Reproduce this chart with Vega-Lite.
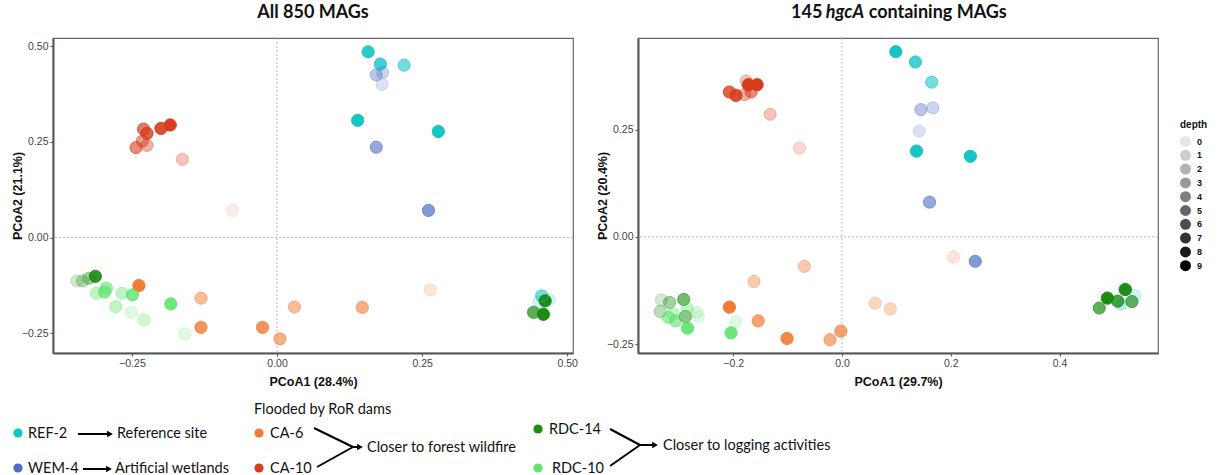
{
  "$schema": "https://vega.github.io/schema/vega-lite/v6.json",
  "background": "white",
  "padding": {"left": 10, "top": 3, "right": 5, "bottom": 0},
  "spacing": 8,
  "datasets": {
    "pts": [
      {"panel":"A","site":"REF-2","x":0.157,"y":0.485,"depth":8},
      {"panel":"A","site":"REF-2","x":0.178,"y":0.453,"depth":7},
      {"panel":"A","site":"REF-2","x":0.219,"y":0.450,"depth":5},
      {"panel":"A","site":"REF-2","x":0.139,"y":0.306,"depth":9},
      {"panel":"A","site":"REF-2","x":0.278,"y":0.277,"depth":9},
      {"panel":"A","site":"REF-2","x":0.456,"y":-0.152,"depth":5},
      {"panel":"A","site":"REF-2","x":0.451,"y":-0.169,"depth":1},
      {"panel":"A","site":"REF-2","x":0.469,"y":-0.162,"depth":1},
      {"panel":"A","site":"WEM-4","x":0.171,"y":0.425,"depth":3},
      {"panel":"A","site":"WEM-4","x":0.182,"y":0.431,"depth":2},
      {"panel":"A","site":"WEM-4","x":0.181,"y":0.400,"depth":1},
      {"panel":"A","site":"WEM-4","x":0.171,"y":0.236,"depth":5},
      {"panel":"A","site":"WEM-4","x":0.261,"y":0.071,"depth":6},
      {"panel":"A","site":"CA-10","x":-0.230,"y":0.283,"depth":6},
      {"panel":"A","site":"CA-10","x":-0.224,"y":0.272,"depth":7},
      {"panel":"A","site":"CA-10","x":-0.200,"y":0.285,"depth":8},
      {"panel":"A","site":"CA-10","x":-0.184,"y":0.294,"depth":9},
      {"panel":"A","site":"CA-10","x":-0.243,"y":0.235,"depth":5},
      {"panel":"A","site":"CA-10","x":-0.232,"y":0.252,"depth":4},
      {"panel":"A","site":"CA-10","x":-0.224,"y":0.241,"depth":3},
      {"panel":"A","site":"CA-10","x":-0.163,"y":0.204,"depth":2},
      {"panel":"A","site":"CA-10","x":-0.077,"y":0.071,"depth":0},
      {"panel":"A","site":"CA-6","x":-0.238,"y":-0.125,"depth":9},
      {"panel":"A","site":"CA-6","x":-0.131,"y":-0.158,"depth":4},
      {"panel":"A","site":"CA-6","x":-0.131,"y":-0.234,"depth":7},
      {"panel":"A","site":"CA-6","x":-0.025,"y":-0.234,"depth":7},
      {"panel":"A","site":"CA-6","x":0.005,"y":-0.264,"depth":5},
      {"panel":"A","site":"CA-6","x":0.030,"y":-0.181,"depth":4},
      {"panel":"A","site":"CA-6","x":0.147,"y":-0.182,"depth":5},
      {"panel":"A","site":"CA-6","x":0.264,"y":-0.137,"depth":1},
      {"panel":"A","site":"RDC-14","x":-0.313,"y":-0.101,"depth":8},
      {"panel":"A","site":"RDC-14","x":-0.345,"y":-0.113,"depth":1},
      {"panel":"A","site":"RDC-14","x":-0.335,"y":-0.113,"depth":2},
      {"panel":"A","site":"RDC-14","x":-0.324,"y":-0.106,"depth":3},
      {"panel":"A","site":"RDC-14","x":0.442,"y":-0.195,"depth":6},
      {"panel":"A","site":"RDC-14","x":0.462,"y":-0.165,"depth":9},
      {"panel":"A","site":"RDC-14","x":0.459,"y":-0.200,"depth":9},
      {"panel":"A","site":"RDC-10","x":-0.311,"y":-0.145,"depth":3},
      {"panel":"A","site":"RDC-10","x":-0.294,"y":-0.132,"depth":5},
      {"panel":"A","site":"RDC-10","x":-0.297,"y":-0.142,"depth":6},
      {"panel":"A","site":"RDC-10","x":-0.267,"y":-0.145,"depth":3},
      {"panel":"A","site":"RDC-10","x":-0.249,"y":-0.149,"depth":7},
      {"panel":"A","site":"RDC-10","x":-0.278,"y":-0.180,"depth":3},
      {"panel":"A","site":"RDC-10","x":-0.251,"y":-0.195,"depth":1},
      {"panel":"A","site":"RDC-10","x":-0.229,"y":-0.215,"depth":2},
      {"panel":"A","site":"RDC-10","x":-0.183,"y":-0.173,"depth":8},
      {"panel":"A","site":"RDC-10","x":-0.159,"y":-0.251,"depth":1},
      {"panel":"H","site":"REF-2","x":0.099,"y":0.432,"depth":9},
      {"panel":"H","site":"REF-2","x":0.135,"y":0.408,"depth":7},
      {"panel":"H","site":"REF-2","x":0.165,"y":0.361,"depth":5},
      {"panel":"H","site":"REF-2","x":0.137,"y":0.200,"depth":9},
      {"panel":"H","site":"REF-2","x":0.236,"y":0.188,"depth":9},
      {"panel":"H","site":"REF-2","x":0.518,"y":-0.121,"depth":1},
      {"panel":"H","site":"REF-2","x":0.539,"y":-0.137,"depth":1},
      {"panel":"H","site":"REF-2","x":0.513,"y":-0.157,"depth":2},
      {"panel":"H","site":"WEM-4","x":0.145,"y":0.297,"depth":3},
      {"panel":"H","site":"WEM-4","x":0.167,"y":0.301,"depth":2},
      {"panel":"H","site":"WEM-4","x":0.142,"y":0.247,"depth":1},
      {"panel":"H","site":"WEM-4","x":0.161,"y":0.081,"depth":5},
      {"panel":"H","site":"WEM-4","x":0.245,"y":-0.057,"depth":6},
      {"panel":"H","site":"CA-10","x":-0.207,"y":0.338,"depth":7},
      {"panel":"H","site":"CA-10","x":-0.195,"y":0.330,"depth":8},
      {"panel":"H","site":"CA-10","x":-0.176,"y":0.364,"depth":2},
      {"panel":"H","site":"CA-10","x":-0.172,"y":0.355,"depth":9},
      {"panel":"H","site":"CA-10","x":-0.156,"y":0.355,"depth":9},
      {"panel":"H","site":"CA-10","x":-0.179,"y":0.332,"depth":3},
      {"panel":"H","site":"CA-10","x":-0.167,"y":0.338,"depth":5},
      {"panel":"H","site":"CA-10","x":-0.132,"y":0.286,"depth":2},
      {"panel":"H","site":"CA-10","x":-0.078,"y":0.207,"depth":1},
      {"panel":"H","site":"CA-6","x":-0.069,"y":-0.069,"depth":3},
      {"panel":"H","site":"CA-6","x":-0.162,"y":-0.104,"depth":3},
      {"panel":"H","site":"CA-6","x":-0.207,"y":-0.164,"depth":9},
      {"panel":"H","site":"CA-6","x":-0.154,"y":-0.196,"depth":6},
      {"panel":"H","site":"CA-6","x":-0.101,"y":-0.237,"depth":8},
      {"panel":"H","site":"CA-6","x":-0.022,"y":-0.240,"depth":5},
      {"panel":"H","site":"CA-6","x":-0.002,"y":-0.220,"depth":6},
      {"panel":"H","site":"CA-6","x":0.061,"y":-0.155,"depth":2},
      {"panel":"H","site":"CA-6","x":0.089,"y":-0.168,"depth":2},
      {"panel":"H","site":"CA-6","x":0.205,"y":-0.047,"depth":1},
      {"panel":"H","site":"RDC-14","x":-0.332,"y":-0.147,"depth":1},
      {"panel":"H","site":"RDC-14","x":-0.317,"y":-0.153,"depth":3},
      {"panel":"H","site":"RDC-14","x":-0.334,"y":-0.174,"depth":2},
      {"panel":"H","site":"RDC-14","x":-0.291,"y":-0.146,"depth":5},
      {"panel":"H","site":"RDC-14","x":-0.288,"y":-0.186,"depth":4},
      {"panel":"H","site":"RDC-14","x":0.473,"y":-0.166,"depth":6},
      {"panel":"H","site":"RDC-14","x":0.488,"y":-0.143,"depth":9},
      {"panel":"H","site":"RDC-14","x":0.507,"y":-0.150,"depth":7},
      {"panel":"H","site":"RDC-14","x":0.521,"y":-0.123,"depth":9},
      {"panel":"H","site":"RDC-14","x":0.533,"y":-0.151,"depth":6},
      {"panel":"H","site":"RDC-10","x":-0.319,"y":-0.188,"depth":5},
      {"panel":"H","site":"RDC-10","x":-0.306,"y":-0.196,"depth":5},
      {"panel":"H","site":"RDC-10","x":-0.284,"y":-0.213,"depth":8},
      {"panel":"H","site":"RDC-10","x":-0.284,"y":-0.168,"depth":3},
      {"panel":"H","site":"RDC-10","x":-0.267,"y":-0.176,"depth":1},
      {"panel":"H","site":"RDC-10","x":-0.264,"y":-0.186,"depth":1},
      {"panel":"H","site":"RDC-10","x":-0.195,"y":-0.198,"depth":1},
      {"panel":"H","site":"RDC-10","x":-0.204,"y":-0.224,"depth":8},
      {"panel":"H","site":"RDC-10","x":-0.310,"y":-0.180,"depth":3}
    ],
    "zero": [{"x": 0, "y": 0}],
    "titleA": [{"x": 0.062, "y": 0.586, "t": "All 850 MAGs"}],
    "titleH1": [{"x": -0.036, "y": 0.523, "t": "145"}],
    "titleH2": [{"x": -0.030, "y": 0.523, "t": "hgcA"}],
    "titleH3": [{"x": 0.049, "y": 0.523, "t": "containing MAGs"}],
    "legDots": [
      {"site":"REF-2","x":18,"y":431},
      {"site":"WEM-4","x":18,"y":466},
      {"site":"CA-6","x":259,"y":431},
      {"site":"CA-10","x":259,"y":466},
      {"site":"RDC-14","x":538,"y":427},
      {"site":"RDC-10","x":538,"y":466}
    ],
    "legText": [
      {"t":"REF-2","x":28,"y":432},
      {"t":"Reference site","x":117,"y":432},
      {"t":"WEM-4","x":28,"y":467},
      {"t":"Artificial wetlands","x":115,"y":467},
      {"t":"Flooded by RoR dams","x":254,"y":408},
      {"t":"CA-6","x":270,"y":432},
      {"t":"CA-10","x":270,"y":467},
      {"t":"Closer to forest wildfire","x":367,"y":446},
      {"t":"RDC-14","x":549,"y":428},
      {"t":"RDC-10","x":552,"y":467},
      {"t":"Closer to logging activities","x":663,"y":444}
    ],
    "legLines": [
      {"x":78,"y":432,"x2":108,"y2":432},
      {"x":83,"y":467,"x2":107,"y2":467},
      {"x":314,"y":426,"x2":353,"y2":445},
      {"x":317,"y":465,"x2":353,"y2":445},
      {"x":353,"y":445,"x2":358,"y2":445},
      {"x":610,"y":427,"x2":640,"y2":443},
      {"x":610,"y":464,"x2":640,"y2":443},
      {"x":640,"y":443,"x2":652,"y2":443}
    ],
    "legHeads": [
      {"x":110,"y":432},
      {"x":109,"y":467},
      {"x":360,"y":445},
      {"x":655,"y":443}
    ]
  },
  "vconcat": [
    {
      "bounds": "flush",
      "spacing": 65,
      "hconcat": [
        {
          "width": 520,
          "height": 315,
          "layer": [
            {
              "data": {"name": "zero"},
              "mark": {"type": "rule", "color": "#bbbbbb", "strokeDash": [2, 2], "strokeWidth": 1},
              "encoding": {
                "x": {"field": "x", "type": "quantitative", "title": "PCoA1 (28.4%)", "scale": {"domain": [-0.386, 0.51], "nice": false, "zero": false}}
              }
            },
            {
              "data": {"name": "zero"},
              "mark": {"type": "rule", "color": "#bbbbbb", "strokeDash": [2, 2], "strokeWidth": 1},
              "encoding": {
                "y": {"field": "y", "type": "quantitative", "title": "PCoA2 (21.1%)", "scale": {"domain": [-0.301, 0.521], "nice": false, "zero": false}}
              }
            },
            {
              "data": {"name": "pts"},
              "transform": [{"filter": "datum.panel == 'A'"}],
              "mark": {"type": "point", "filled": true, "size": 150, "strokeWidth": 0},
              "encoding": {
                "x": {"field": "x", "type": "quantitative", "title": "PCoA1 (28.4%)", "scale": {"domain": [-0.386, 0.51], "nice": false, "zero": false}, "axis": {"values": [-0.25, 0, 0.25, 0.5], "format": ".2f"}},
                "y": {"field": "y", "type": "quantitative", "title": "PCoA2 (21.1%)", "scale": {"domain": [-0.301, 0.521], "nice": false, "zero": false}, "axis": {"values": [-0.25, 0, 0.25, 0.5], "format": ".2f"}},
                "color": {"field": "site", "type": "nominal", "legend": null, "scale": {"domain": ["REF-2", "WEM-4", "CA-6", "CA-10", "RDC-14", "RDC-10"], "range": ["#15c4c4", "#4f6fc6", "#f27b35", "#d63d1e", "#1c8c12", "#5ee36c"]}},
                "opacity": {"field": "depth", "type": "quantitative", "title": "depth", "scale": {"domain": [0, 9], "range": [0.1, 1]}, "legend": {"values": [0,1,2,3,4,5,6,7,8,9], "orient": "none", "legendX": 1127, "legendY": 82, "symbolFillColor": "#000000", "symbolType": "circle"}}
              }
            },
            {
              "data": {"name": "pts"},
              "transform": [{"filter": "datum.panel == 'A'"}],
              "mark": {"type": "point", "filled": false, "size": 150, "strokeWidth": 1},
              "encoding": {
                "x": {"field": "x", "type": "quantitative", "title": "PCoA1 (28.4%)", "scale": {"domain": [-0.386, 0.51], "nice": false, "zero": false}},
                "y": {"field": "y", "type": "quantitative", "title": "PCoA2 (21.1%)", "scale": {"domain": [-0.301, 0.521], "nice": false, "zero": false}},
                "color": {"field": "site", "type": "nominal", "legend": null},
                "opacity": {"field": "depth", "type": "quantitative", "title": "depth", "legend": null}
              }
            },
            {
              "data": {"name": "titleA"},
              "mark": {"type": "text", "font": "Lato", "fontSize": 18, "fontWeight": "bold", "color": "#111", "align": "center", "baseline": "middle"},
              "encoding": {
                "x": {"field": "x", "type": "quantitative", "title": "PCoA1 (28.4%)", "scale": {"domain": [-0.386, 0.51], "nice": false, "zero": false}},
                "y": {"field": "y", "type": "quantitative", "title": "PCoA2 (21.1%)", "scale": {"domain": [-0.301, 0.521], "nice": false, "zero": false}},
                "text": {"field": "t"}
              }
            }
          ]
        },
        {
          "width": 520,
          "height": 315,
          "layer": [
            {
              "data": {"name": "zero"},
              "mark": {"type": "rule", "color": "#bbbbbb", "strokeDash": [2, 2], "strokeWidth": 1},
              "encoding": {
                "x": {"field": "x", "type": "quantitative", "title": "PCoA1 (29.7%)", "scale": {"domain": [-0.375, 0.581], "nice": false, "zero": false}}
              }
            },
            {
              "data": {"name": "zero"},
              "mark": {"type": "rule", "color": "#bbbbbb", "strokeDash": [2, 2], "strokeWidth": 1},
              "encoding": {
                "y": {"field": "y", "type": "quantitative", "title": "PCoA2 (20.4%)", "scale": {"domain": [-0.271, 0.464], "nice": false, "zero": false}}
              }
            },
            {
              "data": {"name": "pts"},
              "transform": [{"filter": "datum.panel == 'H'"}],
              "mark": {"type": "point", "filled": true, "size": 150, "strokeWidth": 0},
              "encoding": {
                "x": {"field": "x", "type": "quantitative", "title": "PCoA1 (29.7%)", "scale": {"domain": [-0.375, 0.581], "nice": false, "zero": false}, "axis": {"values": [-0.2, 0, 0.2, 0.4], "format": ".1f"}},
                "y": {"field": "y", "type": "quantitative", "title": "PCoA2 (20.4%)", "scale": {"domain": [-0.271, 0.464], "nice": false, "zero": false}, "axis": {"values": [-0.25, 0, 0.25], "format": ".2f"}},
                "color": {"field": "site", "type": "nominal", "legend": null},
                "opacity": {"field": "depth", "type": "quantitative", "title": "depth", "legend": null}
              }
            },
            {
              "data": {"name": "pts"},
              "transform": [{"filter": "datum.panel == 'H'"}],
              "mark": {"type": "point", "filled": false, "size": 150, "strokeWidth": 1},
              "encoding": {
                "x": {"field": "x", "type": "quantitative", "title": "PCoA1 (29.7%)", "scale": {"domain": [-0.375, 0.581], "nice": false, "zero": false}},
                "y": {"field": "y", "type": "quantitative", "title": "PCoA2 (20.4%)", "scale": {"domain": [-0.271, 0.464], "nice": false, "zero": false}},
                "color": {"field": "site", "type": "nominal", "legend": null},
                "opacity": {"field": "depth", "type": "quantitative", "title": "depth", "legend": null}
              }
            },
            {
              "data": {"name": "titleH1"},
              "mark": {"type": "text", "font": "Lato", "fontSize": 18, "fontWeight": "bold", "color": "#111", "align": "right", "baseline": "middle"},
              "encoding": {
                "x": {"field": "x", "type": "quantitative", "title": "PCoA1 (29.7%)", "scale": {"domain": [-0.375, 0.581], "nice": false, "zero": false}},
                "y": {"field": "y", "type": "quantitative", "title": "PCoA2 (20.4%)", "scale": {"domain": [-0.271, 0.464], "nice": false, "zero": false}},
                "text": {"field": "t"}
              }
            },
            {
              "data": {"name": "titleH2"},
              "mark": {"type": "text", "font": "Lato", "fontSize": 18, "fontWeight": "bold", "fontStyle": "italic", "color": "#111", "align": "left", "baseline": "middle"},
              "encoding": {
                "x": {"field": "x", "type": "quantitative", "title": "PCoA1 (29.7%)", "scale": {"domain": [-0.375, 0.581], "nice": false, "zero": false}},
                "y": {"field": "y", "type": "quantitative", "title": "PCoA2 (20.4%)", "scale": {"domain": [-0.271, 0.464], "nice": false, "zero": false}},
                "text": {"field": "t"}
              }
            },
            {
              "data": {"name": "titleH3"},
              "mark": {"type": "text", "font": "Lato", "fontSize": 18, "fontWeight": "bold", "color": "#111", "align": "left", "baseline": "middle"},
              "encoding": {
                "x": {"field": "x", "type": "quantitative", "title": "PCoA1 (29.7%)", "scale": {"domain": [-0.375, 0.581], "nice": false, "zero": false}},
                "y": {"field": "y", "type": "quantitative", "title": "PCoA2 (20.4%)", "scale": {"domain": [-0.271, 0.464], "nice": false, "zero": false}},
                "text": {"field": "t"}
              }
            }
          ]
        }
      ]
    },
    {
      "width": 1105,
      "height": 80,
      "view": {"stroke": null},
      "layer": [
        {
          "data": {"name": "legLines"},
          "mark": {"type": "rule", "color": "#000", "strokeWidth": 2},
          "encoding": {
            "x": {"field": "x", "type": "quantitative", "scale": {"domain": [53, 1158], "nice": false, "zero": false}, "axis": null},
            "y": {"field": "y", "type": "quantitative", "scale": {"domain": [395, 475], "nice": false, "zero": false, "reverse": true}, "axis": null},
            "x2": {"field": "x2"},
            "y2": {"field": "y2"}
          }
        },
        {
          "data": {"name": "legHeads"},
          "mark": {"type": "point", "shape": "triangle-right", "filled": true, "color": "#000", "size": 45, "opacity": 1},
          "encoding": {
            "x": {"field": "x", "type": "quantitative", "scale": {"domain": [53, 1158], "nice": false, "zero": false}, "axis": null},
            "y": {"field": "y", "type": "quantitative", "scale": {"domain": [395, 475], "nice": false, "zero": false, "reverse": true}, "axis": null}
          }
        },
        {
          "data": {"name": "legDots"},
          "mark": {"type": "circle", "size": 85, "opacity": 1},
          "encoding": {
            "x": {"field": "x", "type": "quantitative", "scale": {"domain": [53, 1158], "nice": false, "zero": false}, "axis": null},
            "y": {"field": "y", "type": "quantitative", "scale": {"domain": [395, 475], "nice": false, "zero": false, "reverse": true}, "axis": null},
            "color": {"field": "site", "type": "nominal", "legend": null}
          }
        },
        {
          "data": {"name": "legText"},
          "mark": {"type": "text", "font": "Lato", "fontSize": 14.5, "color": "#111", "align": "left", "baseline": "middle"},
          "encoding": {
            "x": {"field": "x", "type": "quantitative", "scale": {"domain": [53, 1158], "nice": false, "zero": false}, "axis": null},
            "y": {"field": "y", "type": "quantitative", "scale": {"domain": [395, 475], "nice": false, "zero": false, "reverse": true}, "axis": null},
            "text": {"field": "t"}
          }
        }
      ]
    }
  ],
  "resolve": {"scale": {"color": "shared", "opacity": "shared"}},
  "config": {
    "font": "Liberation Sans",
    "view": {"stroke": "#666666", "strokeWidth": 1.2},
    "axis": {
      "grid": false,
      "domainColor": "#555555",
      "domainWidth": 2,
      "tickColor": "#555555",
      "tickSize": 3,
      "tickWidth": 1,
      "labelFont": "Liberation Sans",
      "labelFontSize": 10.5,
      "labelColor": "#444444",
      "labelPadding": 2,
      "titleFont": "Liberation Sans",
      "titleFontSize": 12.5,
      "titleFontWeight": "bold",
      "titleColor": "#111111"
    },
    "axisX": {"titlePadding": 7},
    "axisY": {"titlePadding": -3},
    "legend": {
      "titleFont": "Liberation Sans",
      "titleFontSize": 10,
      "titleFontWeight": "bold",
      "titleColor": "#111111",
      "labelFont": "Liberation Sans",
      "labelFontSize": 9,
      "labelFontWeight": "bold",
      "labelColor": "#111111",
      "symbolSize": 120,
      "symbolType": "circle",
      "symbolFillColor": "#000000",
      "symbolStrokeColor": "#000000",
      "symbolStrokeWidth": 0,
      "rowPadding": 2.8,
      "titlePadding": 6,
      "labelOffset": 6
    }
  }
}
